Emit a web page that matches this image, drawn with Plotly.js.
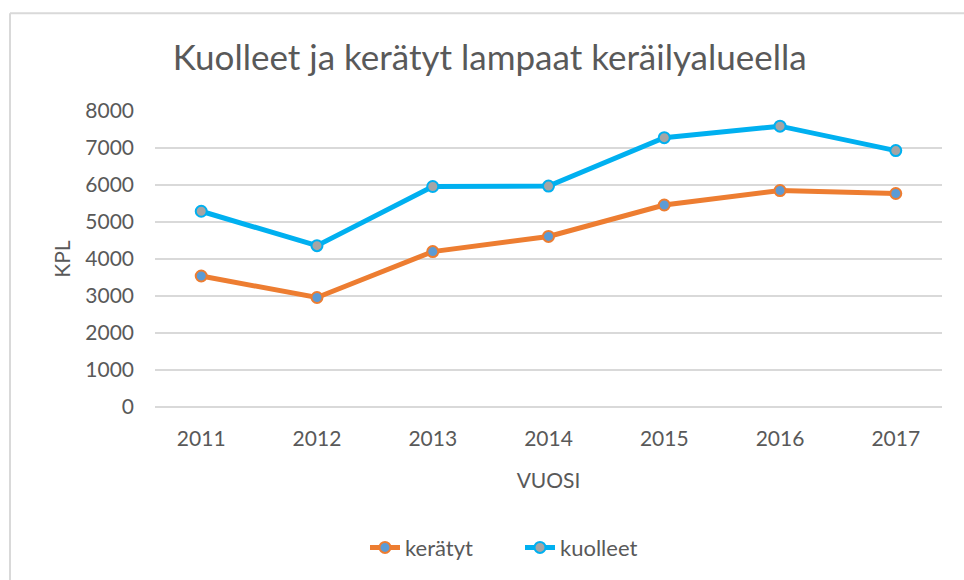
<!DOCTYPE html>
<html>
<head>
<meta charset="utf-8">
<script src="https://cdn.plot.ly/plotly-3.0.1.min.js"></script>
<style>html,body{margin:0;padding:0;background:#fff;}#chart{width:964px;height:580px;}</style>
</head>
<body>
<div id="chart"></div>
<script>
const years = ['2011','2012','2013','2014','2015','2016','2017'];
const keratyt = [3540, 2960, 4200, 4610, 5460, 5850, 5770];
const kuolleet = [5290, 4360, 5960, 5970, 7280, 7590, 6930];
const tickVals = [0,1000,2000,3000,4000,5000,6000,7000,8000];

const FONT = 'Lato, "Open Sans", sans-serif';
const GREY = '#595959';

const traces = [
  {
    x: years, y: keratyt, name: 'kerätyt', type: 'scatter', mode: 'lines+markers',
    line: {color: '#ED7D31', width: 5},
    marker: {size: 11, color: '#5B9BD5', line: {color: '#ED7D31', width: 2}}
  },
  {
    x: years, y: kuolleet, name: 'kuolleet', type: 'scatter', mode: 'lines+markers',
    line: {color: '#00B0F0', width: 5},
    marker: {size: 11, color: '#A5A5A5', line: {color: '#00B0F0', width: 2}}
  }
];

const layout = {
  width: 964, height: 580,
  margin: {l: 155, r: 22, t: 111, b: 168},
  paper_bgcolor: '#fff', plot_bgcolor: '#fff',
  font: {family: FONT, color: GREY, size: 21},
  title: {text: 'Kuolleet ja kerätyt lampaat keräilyalueella', font: {family: FONT, size: 35, color: GREY},
          x: 0.508, xanchor: 'center', y: 0.9, yanchor: 'middle'},
  xaxis: {
    type: 'category', showgrid: false, zeroline: false, showline: false, automargin: false,
    ticks: '', ticklabelstandoff: 17,
    tickfont: {family: FONT, size: 21, color: GREY},
    title: {text: 'VUOSI', font: {family: FONT, size: 21, color: GREY}, standoff: 24}
  },
  yaxis: {
    range: [0, 8000], tickvals: tickVals, ticktext: tickVals.map(String), automargin: false,
    showgrid: true, gridcolor: '#d9d9d9', gridwidth: 1.5,
    zeroline: true, zerolinecolor: '#d9d9d9', zerolinewidth: 1.5,
    showline: false, ticks: '', ticklabelstandoff: 20,
    tickfont: {family: FONT, size: 21, color: GREY},
    title: {text: 'KPL', font: {family: FONT, size: 21, color: GREY}, standoff: 8}
  },
  showlegend: true,
  legend: {orientation: 'h', x: (365-155)/787, xanchor: 'left', y: -0.475, yanchor: 'middle',
           entrywidth: 110, entrywidthmode: 'pixels',
           font: {family: FONT, size: 22, color: GREY}, bgcolor: 'rgba(0,0,0,0)'},
  shapes: [
    {type: 'line', xref: 'paper', yref: 'paper', x0: (10-155)/787, x1: (1000-155)/787,
     y0: (412-11.5)/301, y1: (412-11.5)/301, line: {color: '#d9d9d9', width: 2}},
    {type: 'line', xref: 'paper', yref: 'paper', x0: (10-155)/787, x1: (10-155)/787,
     y0: (412-11.5)/301, y1: (412-600)/301, line: {color: '#d9d9d9', width: 2}}
  ]
};

Plotly.newPlot('chart', traces, layout, {displayModeBar: false, staticPlot: true});
</script>
</body>
</html>
